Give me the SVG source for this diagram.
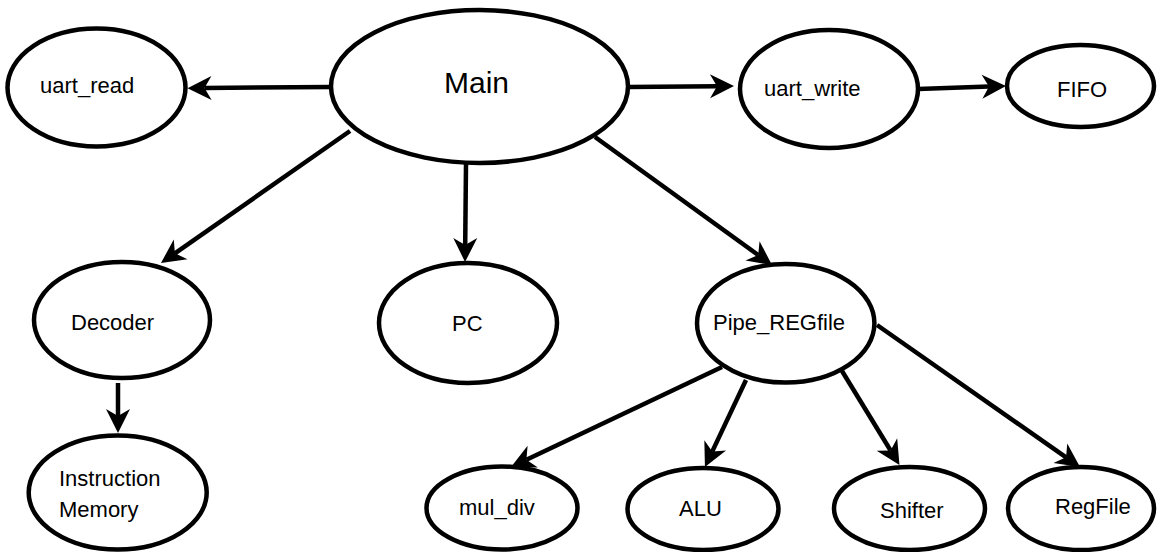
<svg xmlns="http://www.w3.org/2000/svg" width="1157" height="552" viewBox="0 0 1157 552">
<style>
.n{fill:#fff;stroke:#000;stroke-width:4.5}
.t{font-family:"Liberation Sans",Arial,sans-serif;font-size:22px;fill:#000}
.c{fill:none;stroke:#000;stroke-width:4.5;marker-end:url(#ah)}
</style>
<defs>
<marker id="ah" markerUnits="userSpaceOnUse" markerWidth="30" markerHeight="30" viewBox="-10 -15 30 30" refX="0" refY="0" orient="auto">
<path d="M17,0 L-7,-12 L0,0 L-7,12 Z" fill="#000"/>
</marker>
</defs>
<rect width="1157" height="552" fill="#fff"/>
<g id="connectors">
<path class="c" d="M331,87 L204.5,88"/>
<path class="c" d="M628,87 L717,86.2"/>
<path class="c" d="M918,89 L989,86.6"/>
<path class="c" d="M350,131 L174.9,253.3"/>
<path class="c" d="M466,164 L465.2,245"/>
<path class="c" d="M595,137 L758.2,255"/>
<path class="c" d="M118,383 L118,416"/>
<path class="c" d="M722,367 L526.4,459.7"/>
<path class="c" d="M746,380 L712.2,451.6"/>
<path class="c" d="M842,371 L890.6,450.5"/>
<path class="c" d="M877,325 L1066.1,457.3"/>
</g>
<g id="uart_read"><ellipse class="n" cx="96.5" cy="87.5" rx="89" ry="59"/><text class="t" x="40" y="93">uart_read</text></g>
<g id="main"><ellipse class="n" cx="479.5" cy="86.5" rx="148.5" ry="76.5"/><text class="t" x="444" y="93" style="font-size:30px">Main</text></g>
<g id="uart_write"><ellipse class="n" cx="829" cy="89" rx="89" ry="59"/><text class="t" x="764" y="96">uart_write</text></g>
<g id="fifo"><ellipse class="n" cx="1080.5" cy="86" rx="73.5" ry="41"/><text class="t" x="1057" y="97">FIFO</text></g>
<g id="decoder"><ellipse class="n" cx="122" cy="320" rx="88" ry="58"/><text class="t" x="71" y="330">Decoder</text></g>
<g id="pc"><ellipse class="n" cx="468" cy="323" rx="89" ry="60"/><text class="t" x="452" y="331">PC</text></g>
<g id="pipe_regfile"><ellipse class="n" cx="785.7" cy="323.3" rx="88.7" ry="59.3"/><text class="t" x="713" y="330">Pipe_REGfile</text></g>
<g id="instruction_memory"><ellipse class="n" cx="117.7" cy="492.5" rx="89" ry="57"/><text class="t" x="59" y="486">Instruction</text><text class="t" x="59" y="517">Memory</text></g>
<g id="mul_div"><ellipse class="n" cx="502" cy="508" rx="75.5" ry="41.5"/><text class="t" x="459" y="515">mul_div</text></g>
<g id="alu"><ellipse class="n" cx="703" cy="509" rx="75.5" ry="41"/><text class="t" x="679" y="516">ALU</text></g>
<g id="shifter"><ellipse class="n" cx="909.5" cy="508.5" rx="75.5" ry="41.5"/><text class="t" x="880" y="518">Shifter</text></g>
<g id="regfile"><ellipse class="n" cx="1081" cy="508.5" rx="73" ry="41.5"/><text class="t" x="1055" y="514">RegFile</text></g>
</svg>
